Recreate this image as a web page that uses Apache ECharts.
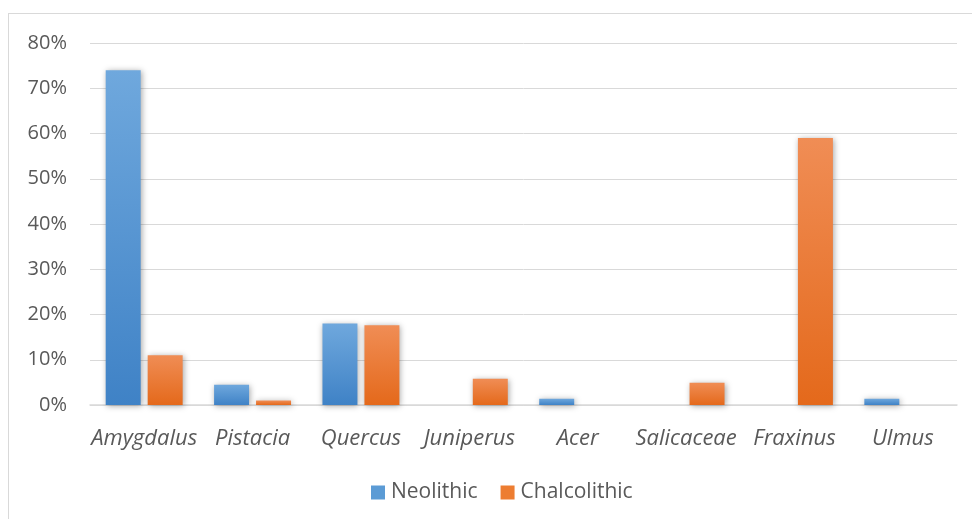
<!DOCTYPE html>
<html>
<head>
<meta charset="utf-8">
<script src="https://cdn.jsdelivr.net/npm/echarts@6/dist/echarts.min.js"></script>
<style>
  html, body { margin: 0; padding: 0; background: #fff; }
  #frame { position: absolute; left: 8px; top: 13px; width: 970px; height: 510px; border: 1px solid #d9d9d9; box-sizing: border-box; }
  #chart { width: 972px; height: 519px; position: absolute; left: 0; top: 0; }
</style>
</head>
<body>
<div id="frame"></div>
<div id="chart"></div>
<script>
// Taxa and their share (%) of identified charcoal per period
const categories = ['Amygdalus', 'Pistacia', 'Quercus', 'Juniperus', 'Acer', 'Salicaceae', 'Fraxinus', 'Ulmus'];
const neolithic = [74, 4.5, 18, 0, 1.4, 0, 0, 1.4];
const chalcolithic = [11, 1, 17.6, 5.8, 0, 4.9, 59, 0];
const yTicks = [0, 10, 20, 30, 40, 50, 60, 70, 80];

const FONT = "'Open Sans', 'Noto Sans', sans-serif";

function grad(top, bottom) {
  return new echarts.graphic.LinearGradient(0, 0, 0, 1, [
    { offset: 0, color: top },
    { offset: 1, color: bottom }
  ]);
}

const barStyle = (top, bottom) => ({
  color: grad(top, bottom),
  shadowColor: 'rgba(0,0,0,0.35)',
  shadowBlur: 6,
  shadowOffsetX: 1,
  shadowOffsetY: 1
});

const chart = echarts.init(document.getElementById('chart'), null, { renderer: 'canvas' });
chart.setOption({
  animation: false,
  grid: { left: 90, right: 15, top: 43, bottom: 114, containLabel: false },
  legend: {
    top: 477,
    left: 366,
    itemWidth: 14,
    itemHeight: 14,
    itemGap: 23,
    icon: 'rect',
    textStyle: { fontFamily: FONT, fontSize: 21, color: '#595959', padding: [0, 0, 0, 1] },
    data: [
      { name: 'Neolithic', itemStyle: { color: '#5b9bd5', shadowBlur: 0 } },
      { name: 'Chalcolithic', itemStyle: { color: '#ed7d31', shadowBlur: 0 } }
    ]
  },
  xAxis: {
    type: 'category',
    data: categories,
    axisLine: { show: true, lineStyle: { color: '#d9d9d9', width: 1.5 } },
    axisTick: { show: false },
    axisLabel: {
      fontFamily: FONT, fontSize: 22, fontStyle: 'italic', color: '#595959',
      margin: 23, interval: 0
    }
  },
  yAxis: {
    type: 'value',
    min: yTicks[0],
    max: yTicks[yTicks.length - 1],
    interval: 10,
    axisLine: { show: false },
    axisTick: { show: false },
    splitLine: { lineStyle: { color: '#d9d9d9', width: 1 } },
    axisLabel: {
      fontFamily: FONT, fontSize: 20, color: '#595959', margin: 23,
      formatter: v => v + '%'
    }
  },
  series: [
    {
      name: 'Neolithic',
      type: 'bar',
      data: neolithic,
      barGap: '20%',
      barCategoryGap: '29%',
      itemStyle: barStyle('#6fa8dd', '#3f82c6')
    },
    {
      name: 'Chalcolithic',
      type: 'bar',
      data: chalcolithic,
      itemStyle: barStyle('#f08d55', '#e4691b')
    }
  ]
});
</script>
</body>
</html>
